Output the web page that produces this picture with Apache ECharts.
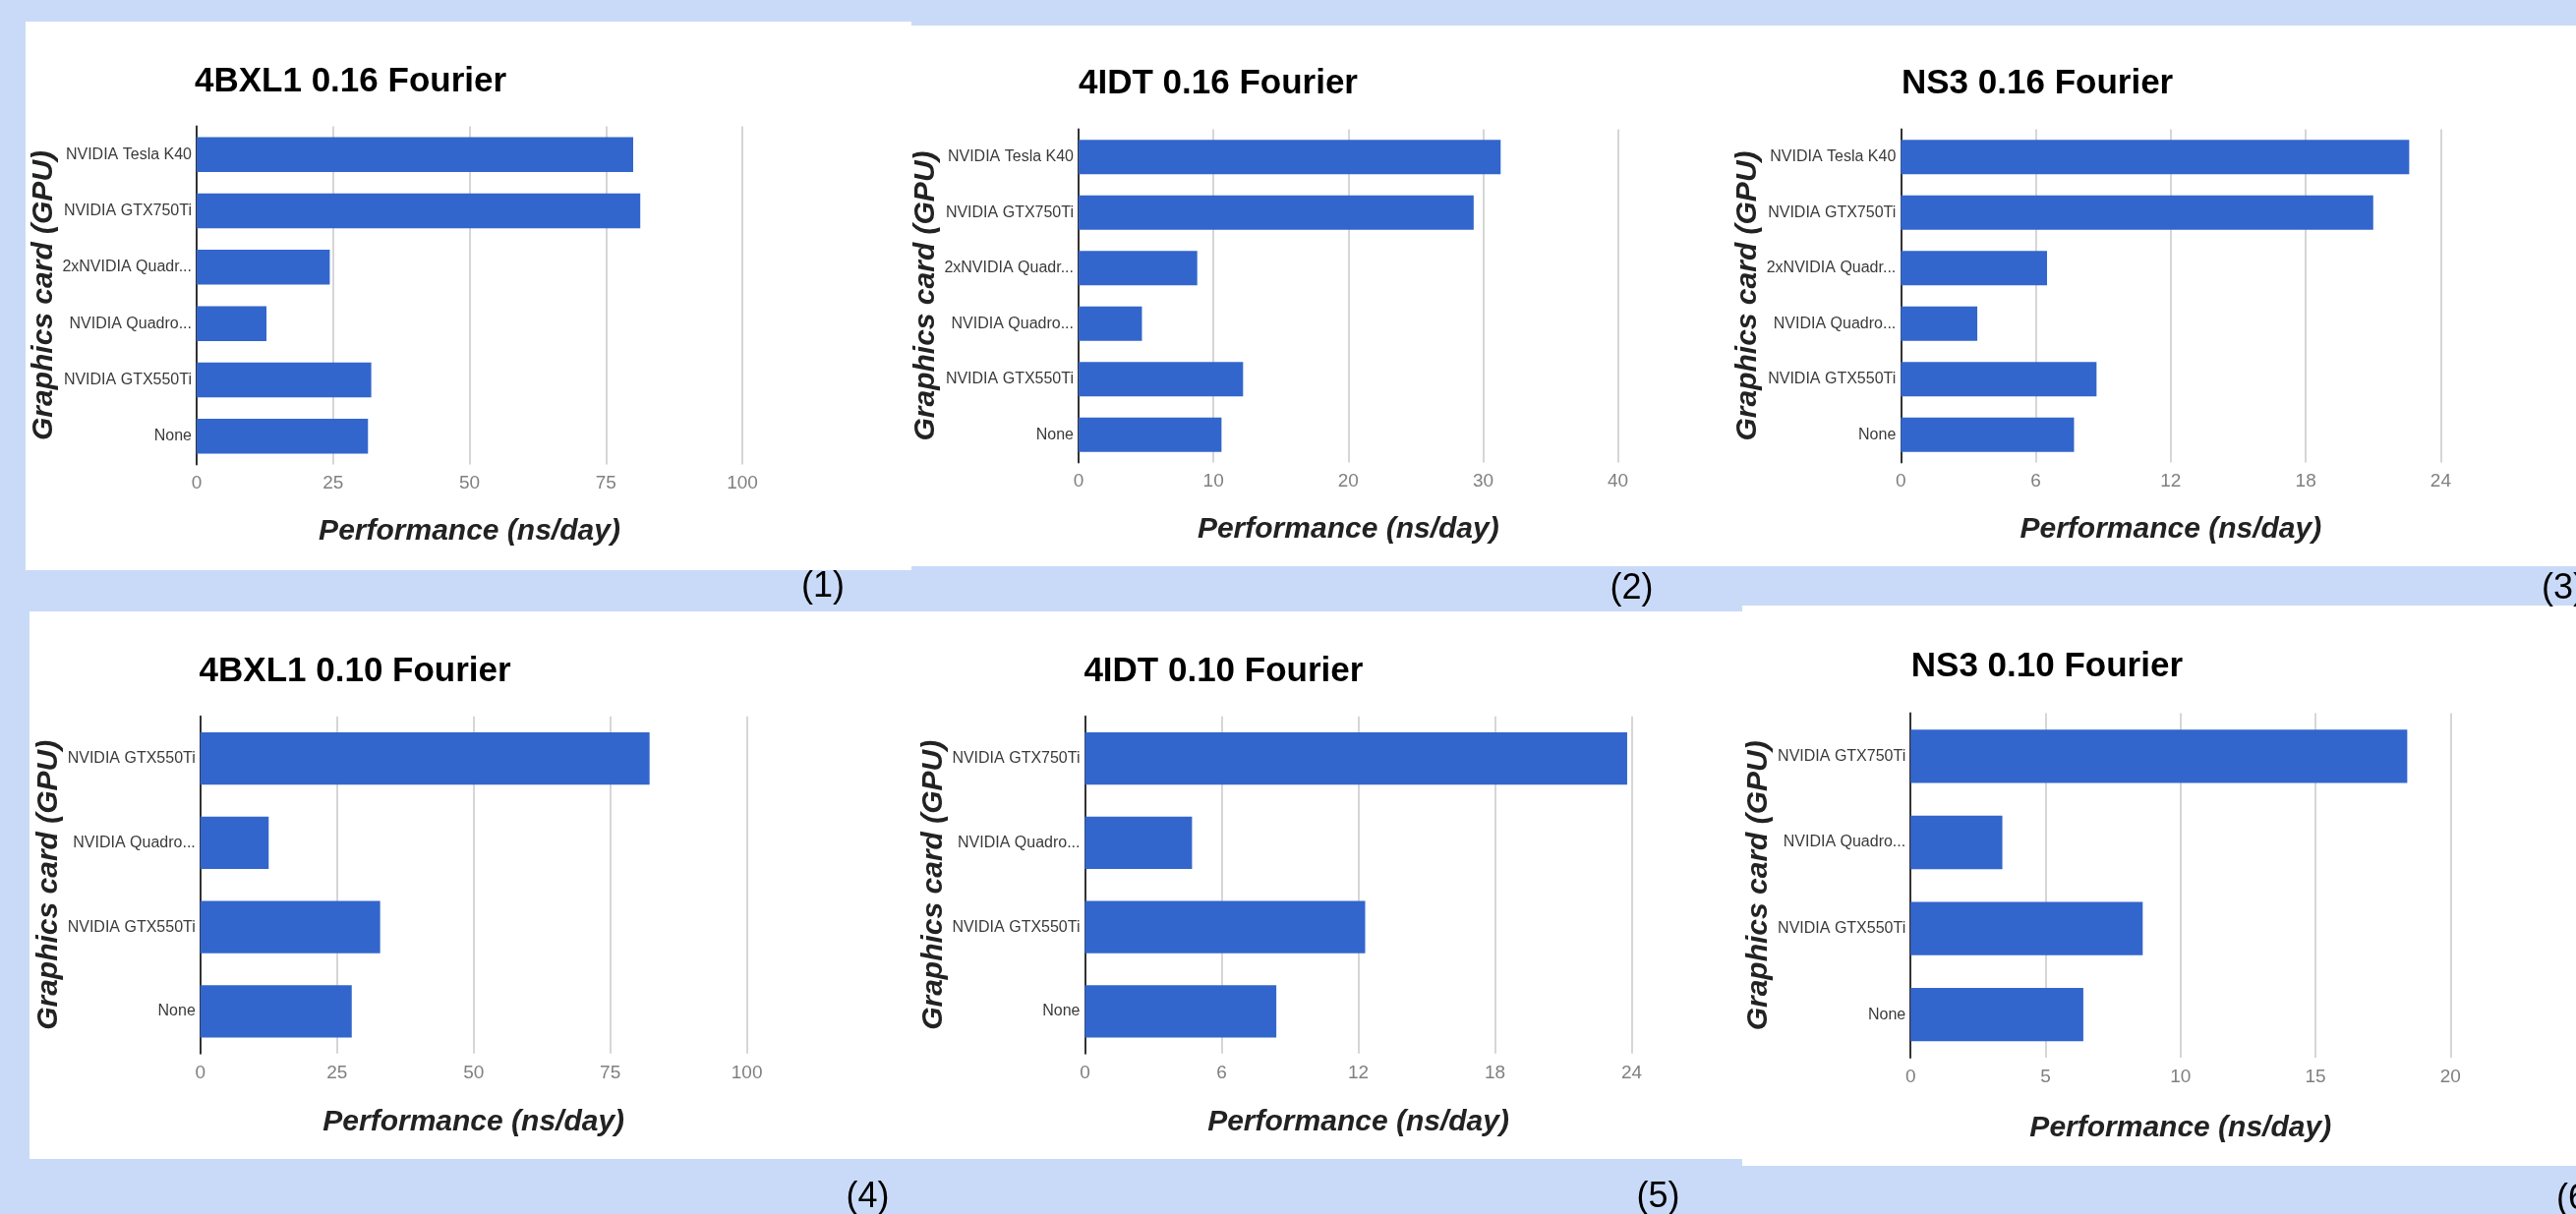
<!DOCTYPE html>
<html>
<head>
<meta charset="utf-8">
<script src="https://cdn.jsdelivr.net/npm/echarts@6/dist/echarts.min.js"></script>
<style>
html,body{margin:0;padding:0;background:#c9daf8;}
#chart{width:2620px;height:1235px;}
</style>
</head>
<body>
<div id="chart"></div>
<script>
// ---------- data ----------
const titles = ['4BXL1 0.16 Fourier', '4IDT 0.16 Fourier', 'NS3 0.16 Fourier',
                '4BXL1 0.10 Fourier', '4IDT 0.10 Fourier', 'NS3 0.10 Fourier'];
const panelTags = ['(1)', '(2)', '(3)', '(4)', '(5)', '(6)'];
const catsTop = ['NVIDIA Tesla K40', 'NVIDIA GTX750Ti', '2xNVIDIA Quadr...', 'NVIDIA Quadro...', 'NVIDIA GTX550Ti', 'None'];
const cats4 = ['NVIDIA GTX550Ti', 'NVIDIA Quadro...', 'NVIDIA GTX550Ti', 'None'];
const cats5 = ['NVIDIA GTX750Ti', 'NVIDIA Quadro...', 'NVIDIA GTX550Ti', 'None'];
const cats6 = ['NVIDIA GTX750Ti', 'NVIDIA Quadro...', 'NVIDIA GTX550Ti', 'None'];
const vals1 = [80.0, 81.3, 24.4, 12.8, 32.0, 31.4];
const vals2 = [31.3, 29.3, 8.8, 4.7, 12.2, 10.6];
const vals3 = [22.6, 21.0, 6.5, 3.4, 8.7, 7.7];
const vals4 = [82.2, 12.5, 32.9, 27.7];
const vals5 = [23.8, 4.7, 12.3, 8.4];
const vals6 = [18.4, 3.4, 8.6, 6.4];
const axisMax = [100, 40, 24, 100, 24, 20];
const axisStep = [25, 10, 6, 25, 6, 5];
const xTitle = 'Performance (ns/day)';
const yTitle = 'Graphics card (GPU)';

// ---------- layout ----------
const FONT = '"Liberation Sans", Arial, sans-serif';
const cats = [catsTop, catsTop, catsTop, cats4, cats5, cats6];
const vals = [vals1, vals2, vals3, vals4, vals5, vals6];
// grid boxes: left, top, right, bottom (px)
const boxes = [
  [200, 128.5, 755, 472.5],
  [1097, 131.5, 1645.6, 470.5],
  [1933.3, 131.5, 2482.4, 470.5],
  [203.8, 728.8, 759.6, 1071.8],
  [1103.5, 728.8, 1659.6, 1071.8],
  [1943.2, 725.6, 2492.3, 1076]
];
const titleCenterY = [83, 85, 85, 683, 683, 678];
const titleLeft = [198, 1097, 1934, 202.6, 1102.4, 1943.8];
const xNameGap = [53.5, 53.5, 53.5, 54.7, 54.7, 57];
const yNameGap = [140, 137.5, 137.5, 139.5, 139, 136.5];
const tagPos = [[837, 597], [1659.5, 599.5], [2607, 599.5], [882.5, 1218.5], [1686.5, 1218.5], [2622, 1220]];
const cards = [
  [26, 22, 927, 580],
  [927, 26, 2620, 576],
  [30, 622, 1772, 1179],
  [1772, 616, 2620, 1186]
];

const chart = echarts.init(document.getElementById('chart'), null, {renderer: 'canvas'});

const grid = [], xAxis = [], yAxis = [], series = [], title = [];
for (let i = 0; i < 6; i++) {
  const b = boxes[i];
  grid.push({left: b[0], top: b[1], width: b[2] - b[0], height: b[3] - b[1], containLabel: false});
  xAxis.push({
    type: 'value', gridIndex: i, min: 0, max: axisMax[i], interval: axisStep[i],
    axisLine: {show: false}, axisTick: {show: false},
    axisLabel: {fontSize: 19, color: '#808080', margin: 10, fontFamily: FONT},
    splitLine: {show: true, lineStyle: {color: '#d6d6d6', width: 2}},
    name: xTitle, nameLocation: 'middle', nameGap: xNameGap[i],
    nameTextStyle: {fontSize: 30, lineHeight: 30, fontWeight: 'bold', fontStyle: 'italic', color: '#222', fontFamily: FONT}
  });
  yAxis.push({
    type: 'category', gridIndex: i, inverse: true, data: cats[i],
    axisLine: {show: true, lineStyle: {color: '#333', width: 2}},
    axisTick: {show: false},
    axisLabel: {fontSize: 16, color: '#3a3a3a', margin: 5, fontFamily: FONT},
    splitLine: {show: false},
    name: yTitle, nameLocation: 'middle', nameGap: yNameGap[i], nameRotate: 90,
    nameTextStyle: {fontSize: 30, lineHeight: 30, fontWeight: 'bold', fontStyle: 'italic', color: '#222', fontFamily: FONT}
  });
  series.push({
    type: 'bar', xAxisIndex: i, yAxisIndex: i, data: vals[i],
    barCategoryGap: '38%', itemStyle: {color: '#3366cc'}, silent: true
  });
  title.push({
    text: titles[i], left: titleLeft[i], top: titleCenterY[i] - 17.5, padding: 0,
    textStyle: {fontSize: 35, lineHeight: 35, fontWeight: 'bold', color: '#000', fontFamily: FONT}
  });
}

const graphics = [];
cards.forEach(c => graphics.push({
  type: 'rect', z: -100, silent: true,
  shape: {x: c[0], y: c[1], width: c[2] - c[0], height: c[3] - c[1]},
  style: {fill: '#ffffff'}
}));
tagPos.forEach((p, i) => graphics.push({
  type: 'text', x: p[0], y: p[1], z: 10, silent: true,
  style: {text: panelTags[i], fontSize: 36, fontFamily: FONT, fill: '#000', align: 'center', verticalAlign: 'middle'}
}));

chart.setOption({
  backgroundColor: '#c9daf8',
  animation: false,
  title: title,
  grid: grid,
  xAxis: xAxis,
  yAxis: yAxis,
  series: series,
  graphic: {elements: graphics}
});
</script>
</body>
</html>
